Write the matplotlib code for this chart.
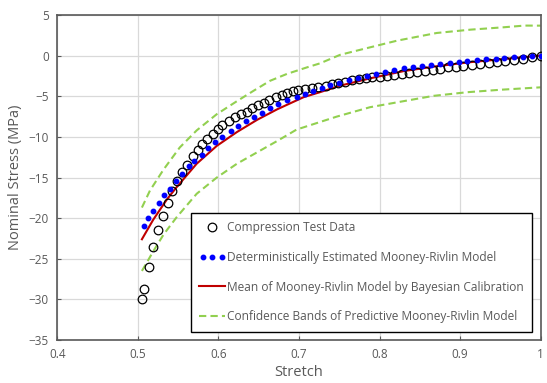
import numpy as np
import matplotlib
matplotlib.use('Agg')
import matplotlib.pyplot as plt
from matplotlib.legend_handler import HandlerLine2D

plt.rcParams['font.family'] = ['Open Sans', 'DejaVu Sans']

# compression test data (circles)
test_x = [0.505, 0.508, 0.5135, 0.519, 0.525, 0.531, 0.537, 0.5425, 0.549, 0.555,
          0.561, 0.568, 0.574, 0.580, 0.586, 0.593, 0.599, 0.605, 0.613, 0.620,
          0.628, 0.635, 0.642, 0.649, 0.656, 0.663, 0.671, 0.679, 0.685, 0.692,
          0.699, 0.707, 0.716, 0.724, 0.733, 0.741, 0.749, 0.757, 0.766, 0.774,
          0.783, 0.791, 0.800, 0.809, 0.818, 0.828, 0.837, 0.846, 0.856, 0.866,
          0.875, 0.885, 0.895, 0.904, 0.915, 0.925, 0.936, 0.946, 0.956, 0.967,
          0.978, 0.989, 1.0]
test_y = [-30.0, -28.7, -26.0, -23.6, -21.5, -19.7, -18.1, -16.6, -15.4, -14.3,
          -13.4, -12.35, -11.6, -10.9, -10.2, -9.6, -9.0, -8.5, -8.0, -7.6,
          -7.2, -6.9, -6.4, -6.1, -5.8, -5.4, -5.1, -4.84, -4.64, -4.39,
          -4.23, -4.15, -3.98, -3.86, -3.69, -3.49, -3.33, -3.2, -3.04, -2.91,
          -2.79, -2.67, -2.59, -2.46, -2.34, -2.22, -2.09, -1.97, -1.85, -1.77,
          -1.6, -1.44, -1.35, -1.23, -1.15, -1.03, -0.94, -0.82, -0.70, -0.53,
          -0.41, -0.21, -0.04]

# deterministic Mooney-Rivlin (blue dots)
det_x = [0.507, 0.513, 0.519, 0.526, 0.5325, 0.540, 0.547, 0.5545, 0.563, 0.570,
         0.579, 0.587, 0.596, 0.605, 0.615, 0.6245, 0.634, 0.644, 0.654, 0.664,
         0.6745, 0.685, 0.697, 0.707, 0.717, 0.728, 0.739, 0.750, 0.762, 0.773,
         0.784, 0.796, 0.807, 0.818, 0.830, 0.841, 0.853, 0.864, 0.875, 0.887,
         0.898, 0.909, 0.921, 0.932, 0.944, 0.955, 0.967, 0.978, 0.989, 1.0]
det_y = [-21.0, -20.0, -19.1, -18.1, -17.2, -16.4, -15.4, -14.6, -13.6, -13.0,
         -12.2, -11.4, -10.6, -10.0, -9.3, -8.7, -8.1, -7.5, -7.0, -6.5,
         -6.0, -5.46, -5.09, -4.68, -4.31, -3.98, -3.65, -3.33, -3.0, -2.75,
         -2.46, -2.22, -1.97, -1.77, -1.55, -1.4, -1.23, -1.11, -0.99, -0.90,
         -0.78, -0.66, -0.53, -0.45, -0.37, -0.29, -0.2, -0.12, -0.04, 0.0]

# Bayesian mean (red line)
mean_x = [0.505, 0.519, 0.536, 0.548, 0.573, 0.598, 0.623, 0.648, 0.673, 0.706,
          0.726, 0.751, 0.788, 0.830, 0.871, 0.913, 0.954, 1.0]
mean_y = [-22.6, -20.2, -17.7, -16.2, -13.3, -11.1, -9.4, -7.9, -6.6, -5.1,
          -4.5, -3.7, -2.8, -1.9, -1.3, -0.8, -0.42, 0.0]

# confidence bands (green dashed)
up_x = [0.505, 0.515, 0.532, 0.552, 0.573, 0.598, 0.623, 0.644, 0.664, 0.685,
        0.710, 0.726, 0.751, 0.780, 0.822, 0.871, 0.913, 0.954, 0.980, 1.0]
up_y = [-18.7, -16.6, -14.0, -11.3, -9.2, -7.2, -5.6, -4.3, -3.1, -2.25,
        -1.44, -0.95, 0.1, 0.82, 1.85, 2.79, 3.2, 3.49, 3.7, 3.69]
lo_x = [0.505, 0.519, 0.532, 0.548, 0.573, 0.598, 0.623, 0.648, 0.673, 0.697,
        0.747, 0.788, 0.830, 0.867, 0.909, 0.950, 1.0]
lo_y = [-26.5, -24.1, -22.0, -19.9, -17.0, -15.0, -13.3, -11.9, -10.5, -9.1,
        -7.5, -6.35, -5.6, -4.95, -4.5, -4.2, -3.9]

grey = '#595959'

fig = plt.figure(figsize=(5.47, 3.83), dpi=100)
ax = fig.add_axes([0.1048, 0.1123, 0.8837, 0.8485])

h1, = ax.plot(test_x, test_y, 'o', ms=6.2, mfc='none', mec='black', mew=0.9,
              label='Compression Test Data', zorder=3)
h2, = ax.plot(det_x, det_y, 'o', ms=3.2, color='#0000ff', ls='none',
              label='Deterministically Estimated Mooney-Rivlin Model', zorder=4)
h3, = ax.plot(mean_x, mean_y, color='#c00000', lw=1.5,
              label='Mean of Mooney-Rivlin Model by Bayesian Calibration', zorder=2)
h4, = ax.plot(up_x, up_y, color='#92d050', lw=1.5, ls=(0, (3.5, 2)),
              label='Confidence Bands of Predictive Mooney-Rivlin Model', zorder=2)
ax.plot(lo_x, lo_y, color='#92d050', lw=1.5, ls=(0, (3.5, 2)), zorder=2)

ax.set_xlim(0.4, 1.0)
ax.set_ylim(-35, 5)
ax.set_xticks(np.arange(0.4, 1.01, 0.1))
ax.set_xticklabels(['0.4', '0.5', '0.6', '0.7', '0.8', '0.9', '1'])
ax.set_yticks(np.arange(-35, 6, 5))
ax.grid(True, color='#d9d9d9', lw=0.9)
ax.set_axisbelow(True)
for s in ax.spines.values():
    s.set_color('#595959')
    s.set_linewidth(1.2)
ax.tick_params(direction='in', length=3, colors=grey, labelsize=8.5, pad=6)

ax.set_xlabel('Stretch', color=grey, fontsize=10.5, labelpad=3)
ax.set_ylabel('Nominal Stress (MPa)', color=grey, fontsize=10.5, labelpad=4)

leg = ax.legend(handles=[h1, h2, h3, h4], loc='lower right',
                bbox_to_anchor=(0.9814, 0.0255), fontsize=8.6, numpoints=1,
                handler_map={h2: HandlerLine2D(numpoints=3)},
                fancybox=False, framealpha=1, edgecolor='black',
                labelspacing=1.4, handlelength=2.2, handletextpad=0.1,
                borderpad=0.7, borderaxespad=0)
leg.get_frame().set_linewidth(1.0)
for t in leg.get_texts():
    t.set_color(grey)

fig.savefig('out.png', dpi=100)
